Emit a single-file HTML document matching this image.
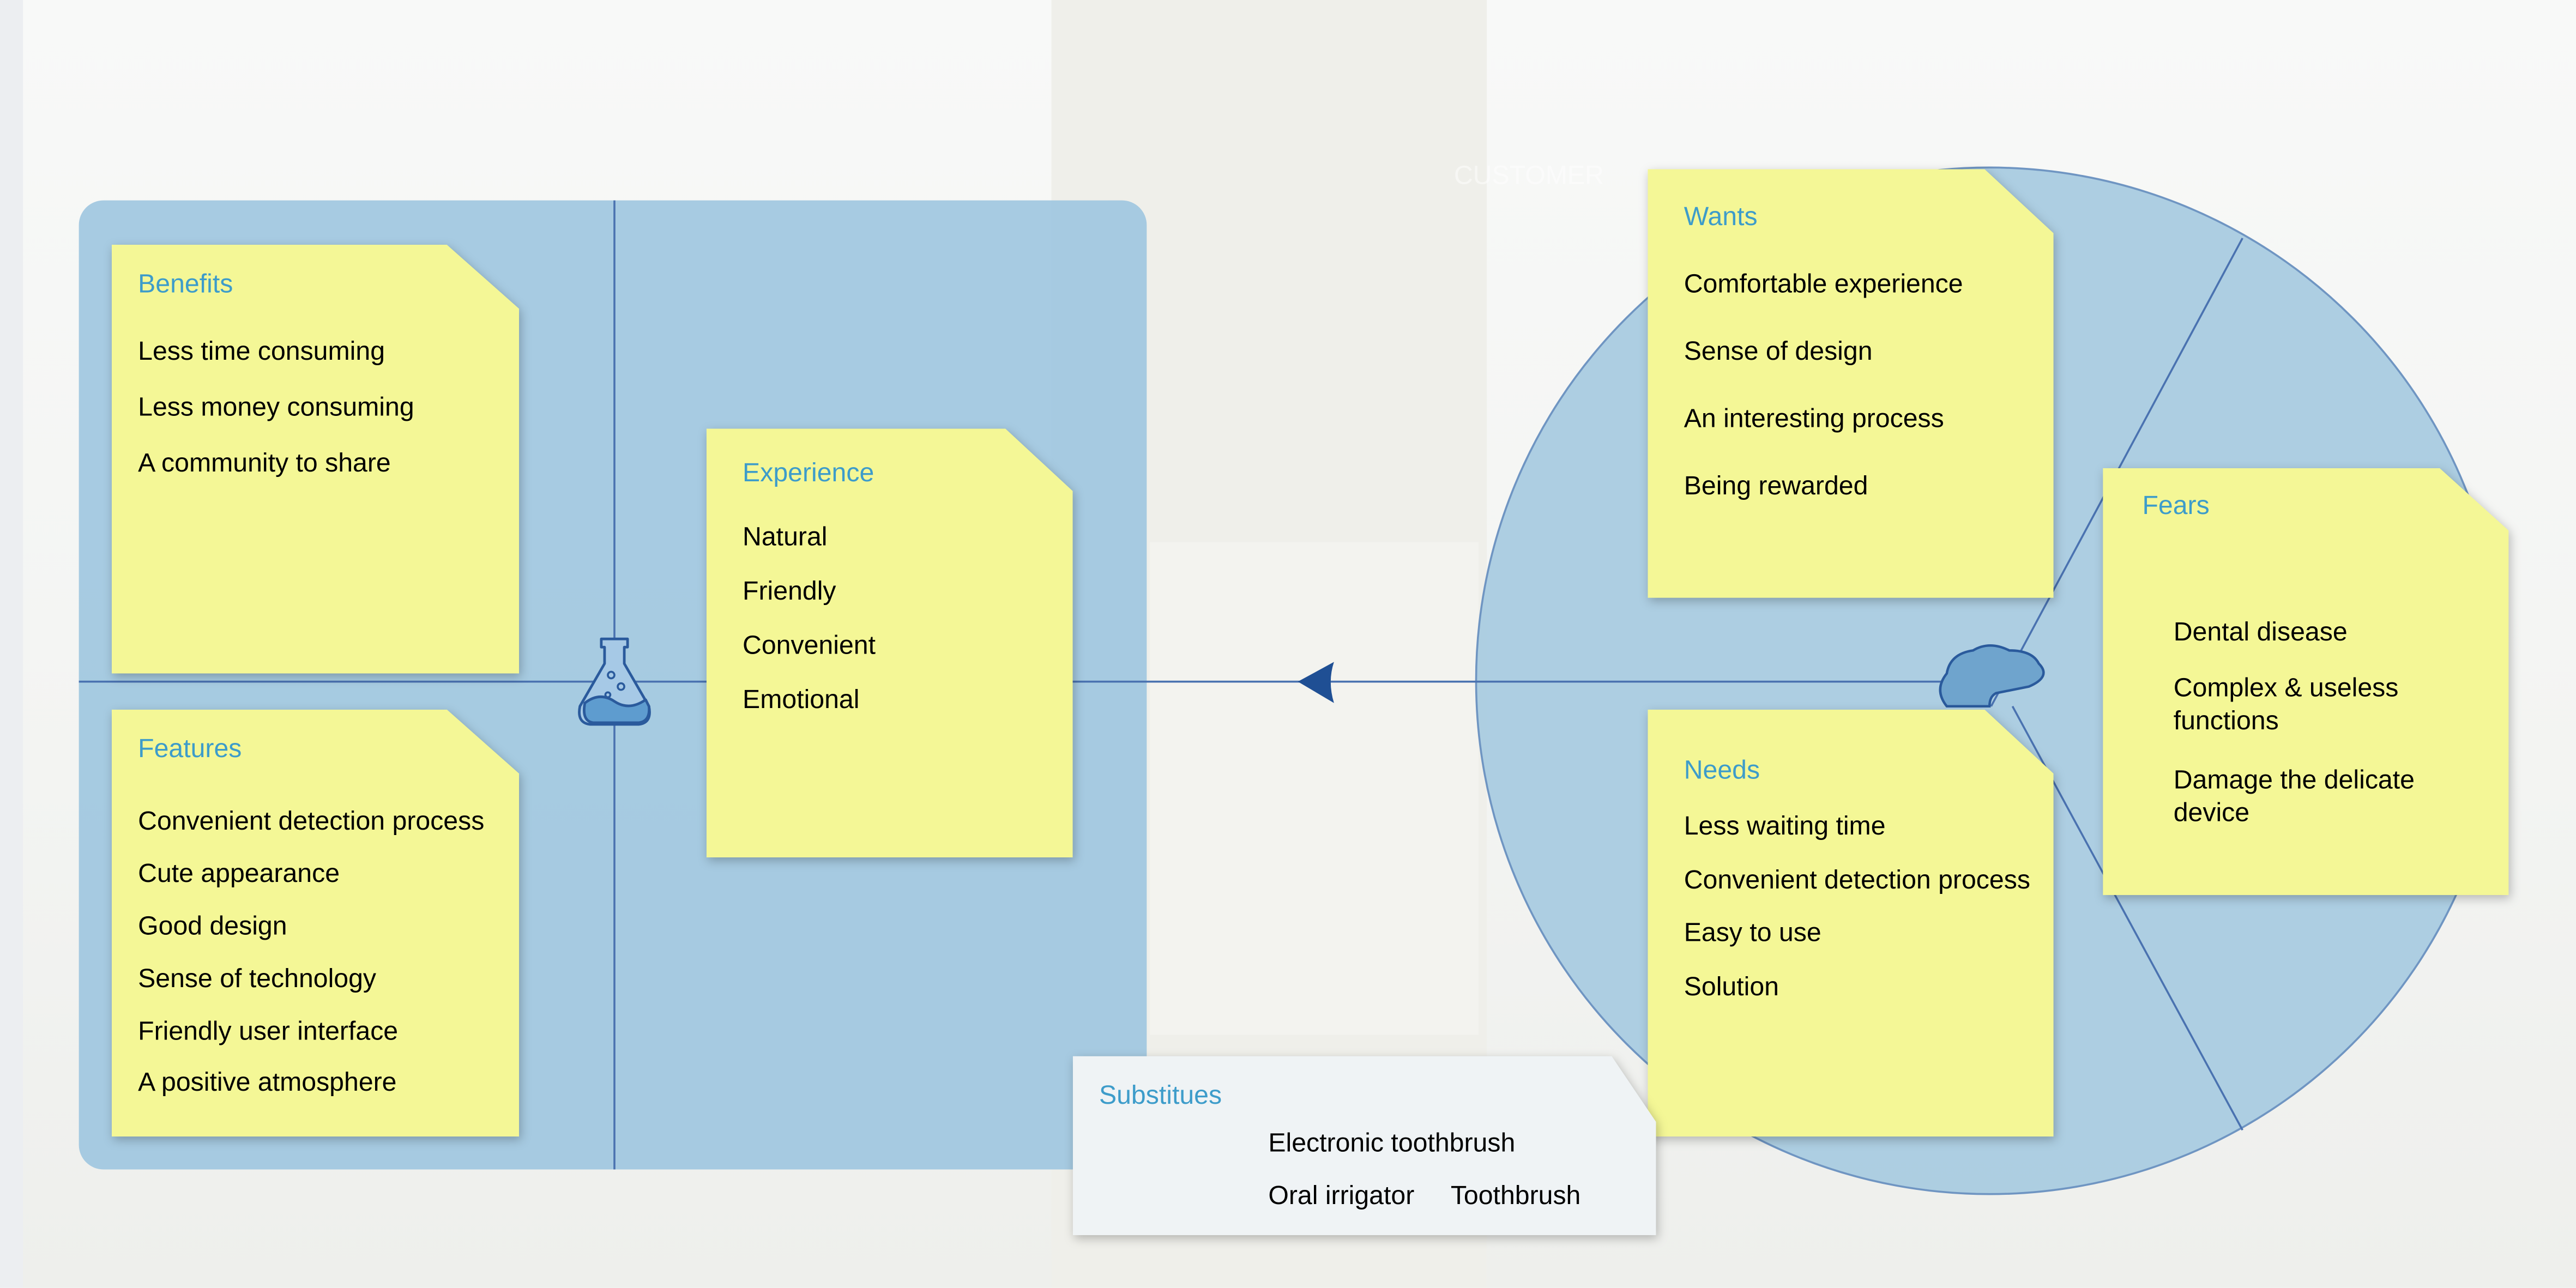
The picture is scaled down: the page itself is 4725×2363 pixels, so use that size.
<!DOCTYPE html>
<html><head><meta charset="utf-8"><style>
html,body{margin:0;padding:0;width:4725px;height:2363px;overflow:hidden;background:#f3f4f2}
#s{position:absolute;left:0;top:0;width:1568px;height:784px;transform:scale(3.01339);transform-origin:0 0;font-family:"Liberation Sans",Arial,sans-serif}
.bg{position:absolute}
.st{position:absolute;filter:drop-shadow(1px 2px 3px rgba(0,0,0,0.25))}
.st .b{position:absolute;left:0;top:0;width:100%;height:100%;background:#f4f796}
.t{position:absolute;font-size:16px;line-height:18px;color:#000;white-space:nowrap;margin-top:2px}
.h{color:#3d9cca}
</style></head><body><div id="s">
<div class="bg" style="left:0;top:0;width:1568px;height:784px;background:linear-gradient(180deg,#f8f9f8 0%,#f3f4f2 60%,#eeefec 100%)"></div>
<div class="bg" style="left:640px;top:0;width:265px;height:784px;background:#efefea"></div>
<div class="bg" style="left:700px;top:330px;width:200px;height:300px;background:#f3f3ef"></div>
<div class="bg" style="left:0;top:0;width:14px;height:784px;background:#eceef1"></div>
<div class="bg" style="left:48px;top:122px;width:650px;height:590px;border-radius:15px;background:rgba(160,199,224,0.92)"></div>
<svg style="position:absolute;left:0;top:0" width="1568" height="784">
<circle cx="1211" cy="414.5" r="312.5" fill="#a9cbe0" fill-opacity="0.95" stroke="#6f95c2" stroke-width="1.2"/>
<line x1="374" y1="122" x2="374" y2="712" stroke="#4a72b0" stroke-width="1.2"/>
<line x1="48" y1="415" x2="1225" y2="415" stroke="#4a72b0" stroke-width="1.2"/>
<line x1="1365" y1="145" x2="1212" y2="430" stroke="#4a72b0" stroke-width="1.2"/>
<line x1="1225" y1="430" x2="1365" y2="688" stroke="#4a72b0" stroke-width="1.2"/>
<path d="M790 415 L812 403 Q808 415 812 428 Z" fill="#1f4f94"/>
<g stroke="#2a5a9c" stroke-width="1.6" stroke-linejoin="round">
<path d="M366 389 h16 v5 h-2 v10 l15 26 q2 10 -6 11 h-30 q-8 -1 -6 -11 l15 -26 v-10 h-2 z" fill="#a6c9e6"/>
<path d="M356 428 q9 -7 18 -1 t19 -1 l2 4 q1 9 -6 10 h-28 q-7 -1 -5 -12z" fill="#5e9ccf"/>
<circle cx="372" cy="411" r="2" fill="none" stroke-width="1.2"/><circle cx="378" cy="418" r="2" fill="none" stroke-width="1.2"/><circle cx="370" cy="423" r="1.5" fill="none" stroke-width="1.2"/>
</g>
<path d="M1185 430 q-8 -10 0 -20 q2 -12 16 -14 q10 -6 22 0 q14 0 18 8 q8 8 -6 14 l-20 4 q-4 2 -4 8z" fill="#6fa4cd" stroke="#2a5a9c" stroke-width="1.5"/>
</svg>
<div class="t" style="left:885px;top:97px;color:#fff;opacity:.5">CUSTOMER</div>

<div class="st" style="left:68px;top:149px;width:248px;height:261px"><div class="b" style="clip-path:polygon(0 0,204px 0,248px 39px,248px 100%,0 100%)"></div>
<div class="t h" style="left:16px;top:14px">Benefits</div>
<div class="t" style="left:16px;top:55px">Less time consuming</div>
<div class="t" style="left:16px;top:89px">Less money consuming</div>
<div class="t" style="left:16px;top:123px">A community to share</div></div>

<div class="st" style="left:68px;top:432px;width:248px;height:260px"><div class="b" style="clip-path:polygon(0 0,204px 0,248px 39px,248px 100%,0 100%)"></div>
<div class="t h" style="left:16px;top:14px">Features</div>
<div class="t" style="left:16px;top:58px">Convenient detection process</div>
<div class="t" style="left:16px;top:90px">Cute appearance</div>
<div class="t" style="left:16px;top:122px">Good design</div>
<div class="t" style="left:16px;top:154px">Sense of technology</div>
<div class="t" style="left:16px;top:186px">Friendly user interface</div>
<div class="t" style="left:16px;top:217px">A positive atmosphere</div></div>

<div class="st" style="left:430px;top:261px;width:223px;height:261px"><div class="b" style="clip-path:polygon(0 0,182px 0,223px 38px,223px 100%,0 100%)"></div>
<div class="t h" style="left:22px;top:17px">Experience</div>
<div class="t" style="left:22px;top:56px">Natural</div>
<div class="t" style="left:22px;top:89px">Friendly</div>
<div class="t" style="left:22px;top:122px">Convenient</div>
<div class="t" style="left:22px;top:155px">Emotional</div></div>

<div class="st" style="left:1003px;top:103px;width:247px;height:261px"><div class="b" style="clip-path:polygon(0 0,205px 0,247px 39px,247px 100%,0 100%)"></div>
<div class="t h" style="left:22px;top:19px">Wants</div>
<div class="t" style="left:22px;top:60px">Comfortable experience</div>
<div class="t" style="left:22px;top:101px">Sense of design</div>
<div class="t" style="left:22px;top:142px">An interesting process</div>
<div class="t" style="left:22px;top:183px">Being rewarded</div></div>

<div class="st" style="left:1280px;top:285px;width:247px;height:260px"><div class="b" style="clip-path:polygon(0 0,205px 0,247px 38px,247px 100%,0 100%)"></div>
<div class="t h" style="left:24px;top:13px">Fears</div>
<div class="t" style="left:43px;top:90px">Dental disease</div>
<div class="t" style="left:43px;top:123px;line-height:20px">Complex &amp; useless<br>functions</div>
<div class="t" style="left:43px;top:179px;line-height:20px">Damage the delicate<br>device</div></div>

<div class="st" style="left:1003px;top:432px;width:247px;height:260px"><div class="b" style="clip-path:polygon(0 0,205px 0,247px 39px,247px 100%,0 100%)"></div>
<div class="t h" style="left:22px;top:27px">Needs</div>
<div class="t" style="left:22px;top:61px">Less waiting time</div>
<div class="t" style="left:22px;top:94px">Convenient detection process</div>
<div class="t" style="left:22px;top:126px">Easy to use</div>
<div class="t" style="left:22px;top:159px">Solution</div></div>

<div class="st" style="left:653px;top:643px;width:355px;height:109px"><div class="b" style="background:#eff3f5;clip-path:polygon(0 0,328px 0,355px 40px,355px 100%,0 100%)"></div>
<div class="t h" style="left:16px;top:14px">Substitues</div>
<div class="t" style="left:119px;top:43px">Electronic toothbrush</div>
<div class="t" style="left:119px;top:75px">Oral irrigator</div>
<div class="t" style="left:230px;top:75px">Toothbrush</div></div>
</div></body></html>
